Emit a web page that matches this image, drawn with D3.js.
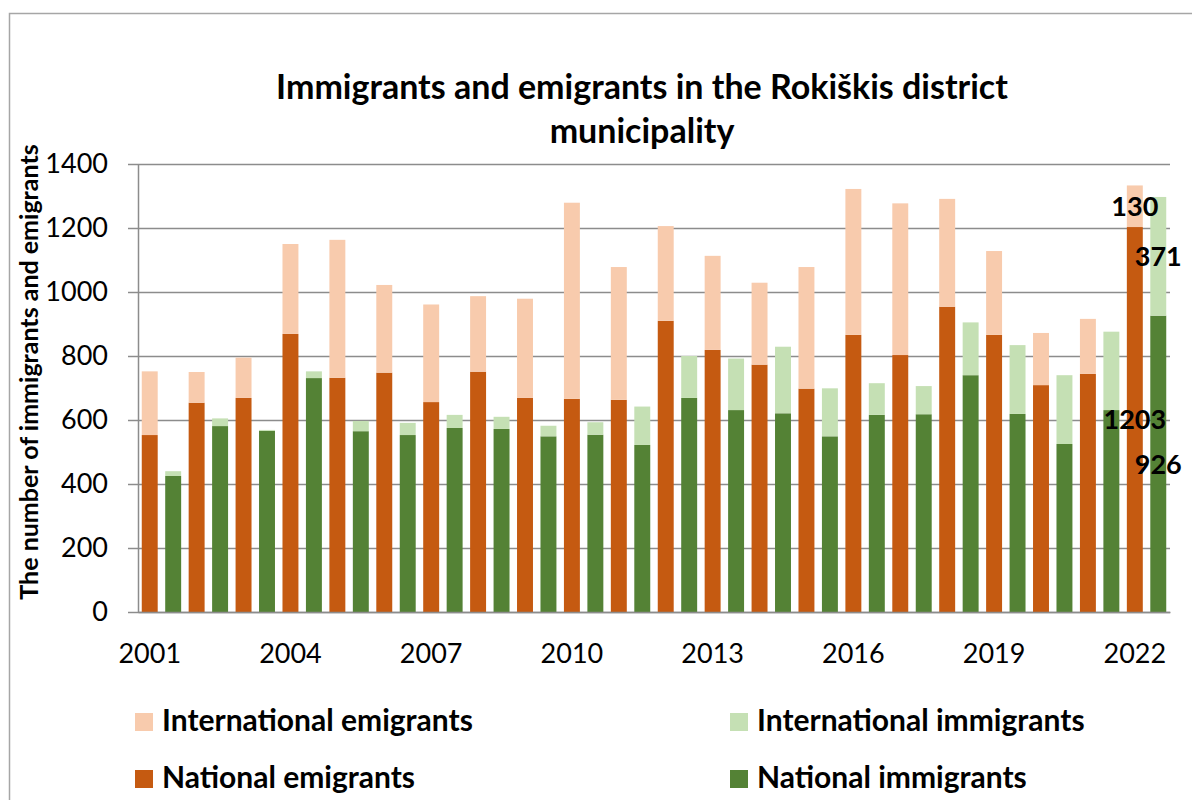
<!DOCTYPE html>
<html>
<head>
<meta charset="utf-8">
<script src="https://cdn.jsdelivr.net/npm/d3@7"></script>
<style>
    body { margin: 0; background: #fff; }
    #chart-area { width: 1192px; height: 800px; }
    text { font-family: Lato, "Open Sans", sans-serif; fill: #000; }
    .axis path, .axis line { stroke: #8c8c8c; stroke-width: 1.5px; }
    .grid path { display: none; }
    .grid line { stroke: #8c8c8c; stroke-width: 1.5px; }
</style>
</head>
<body>
<div id="chart-area"></div>
<script>

// values
let years = [2001, 2002, 2003, 2004, 2005, 2006, 2007, 2008, 2009, 2010, 2011,
             2012, 2013, 2014, 2015, 2016, 2017, 2018, 2019, 2020, 2021, 2022];
let nationalEmigrants      = [553, 654, 669, 869, 732, 748, 656, 751, 669, 666, 663,
                              910, 819, 773, 698, 866, 803, 954, 866, 709, 744, 1203];
let internationalEmigrants = [199, 96, 126, 281, 431, 274, 305, 236, 310, 613, 415,
                              296, 294, 256, 380, 456, 474, 337, 262, 163, 172, 130];
let nationalImmigrants     = [425, 581, 566, 731, 565, 553, 575, 572, 549, 554, 522,
                              669, 631, 621, 549, 616, 618, 740, 619, 525, 631, 926];
let internationalImmigrants = [15, 24, 3, 21, 32, 38, 41, 38, 33, 39, 120,
                               131, 161, 208, 150, 99, 88, 165, 215, 215, 245, 371];

let yTicks = [0, 200, 400, 600, 800, 1000, 1200, 1400];
let xTickYears = [2001, 2004, 2007, 2010, 2013, 2016, 2019, 2022];
let labelledYears = [2022];

let titleLines = ["Immigrants and emigrants in the Rokiškis district", "municipality"];
let yTitle = "The number of immigrants and emigrants";
let legendNames = ["International emigrants", "International immigrants",
                   "National emigrants", "National immigrants"];


/* * * * * * * * * * * * * *
*      class MigrationBarVis        *
* * * * * * * * * * * * * */

class MigrationBarVis {

    constructor(parentElement, data) {
        this.parentElement = parentElement;
        this.data = data;
        this.displayData = [];

        this.initVis();
    }

    initVis() {
        let vis = this;

        vis.margin = {top: 164, right: 22, bottom: 188, left: 138};
        vis.width = 1192 - vis.margin.left - vis.margin.right;
        vis.height = 800 - vis.margin.top - vis.margin.bottom;

        vis.colors = {
            "e": {national: "#C55A11", international: "#F8CBAD"},
            "i": {national: "#548235", international: "#C5E0B4"}
        };

        vis.root = d3.select("#" + vis.parentElement).append("svg")
            .attr("width", 1192)
            .attr("height", 800);

        // chart area border (runs off the right and bottom edge)
        vis.root.append("rect")
            .attr("x", 9.5)
            .attr("y", 13.5)
            .attr("width", 1200)
            .attr("height", 800)
            .attr("fill", "none")
            .attr("stroke", "#a6a6a6")
            .attr("stroke-width", 1.5);

        // title
        vis.root.append("g")
            .attr("class", "title")
            .selectAll("text")
            .data(titleLines)
            .enter().append("text")
            .attr("x", 642)
            .attr("y", (d, i) => 99 + i * 44)
            .attr("text-anchor", "middle")
            .style("font-size", "34px")
            .style("font-weight", "bold")
            .text(d => d);

        // y axis title
        vis.root.append("text")
            .attr("transform", "translate(38, 372) rotate(-90)")
            .attr("text-anchor", "middle")
            .style("font-size", "25px")
            .style("font-weight", "bold")
            .text(yTitle);

        vis.svg = vis.root.append("g")
            .attr("transform", `translate(${vis.margin.left}, ${vis.margin.top})`);

        // scales and axes
        vis.x = d3.scaleBand()
            .range([0, vis.width])
            .paddingInner(0.32)
            .paddingOuter(0.16);

        vis.y = d3.scaleLinear()
            .domain([0, d3.max(yTicks)])
            .range([vis.height, 0]);

        vis.gridGroup = vis.svg.append("g")
            .attr("class", "grid");

        vis.yAxis = d3.axisLeft()
            .scale(vis.y)
            .tickValues(yTicks)
            .tickFormat(d3.format("d"))
            .tickSize(10)
            .tickSizeOuter(0)
            .tickPadding(20);

        vis.xAxis = d3.axisBottom()
            .scale(vis.x)
            .tickSize(0)
            .tickPadding(32)
            .tickFormat(d => d.split("-")[0]);

        vis.barGroup = vis.svg.append("g");

        vis.yAxisGroup = vis.svg.append("g")
            .attr("class", "y-axis axis");

        vis.xAxisGroup = vis.svg.append("g")
            .attr("class", "x-axis axis")
            .attr("transform", "translate(0," + vis.height + ")");

        vis.labelGroup = vis.svg.append("g");

        vis.legend = vis.root.append("g")
            .attr("class", "legend");

        vis.wrangleData();
    }

    wrangleData() {
        let vis = this;

        // one emigrant bar and one immigrant bar per year
        vis.displayData = [];
        vis.data.years.forEach((year, i) => {
            vis.displayData.push({key: year + "-e", year: year, type: "e",
                national: vis.data.nationalEmigrants[i], international: vis.data.internationalEmigrants[i]});
            vis.displayData.push({key: year + "-i", year: year, type: "i",
                national: vis.data.nationalImmigrants[i], international: vis.data.internationalImmigrants[i]});
        });

        vis.stacked = d3.stack().keys(["national", "international"])(vis.displayData);

        vis.updateVis();
    }

    updateVis() {
        let vis = this;

        vis.x.domain(vis.displayData.map(d => d.key));
        vis.xAxis.tickValues(xTickYears.map(y => y + "-e"));

        // gridlines
        vis.gridGroup.call(d3.axisLeft(vis.y).tickValues(yTicks).tickSize(-vis.width).tickFormat(""));

        // bars
        vis.barGroup.selectAll(".layer")
            .data(vis.stacked)
            .enter().append("g")
            .attr("class", "layer")
            .selectAll("rect")
            .data(layer => layer.map(d => ({seg: d, series: layer.key})))
            .enter().append("rect")
            .attr("x", d => vis.x(d.seg.data.key))
            .attr("y", d => vis.y(d.seg[1]))
            .attr("width", vis.x.bandwidth())
            .attr("height", d => vis.y(d.seg[0]) - vis.y(d.seg[1]))
            .attr("fill", d => vis.colors[d.seg.data.type][d.series]);

        // data labels for the last year
        let labelled = [];
        vis.stacked.forEach(layer => {
            layer.forEach(seg => {
                if (labelledYears.includes(seg.data.year)) labelled.push(seg);
            });
        });

        vis.labelGroup.selectAll("text")
            .data(labelled)
            .enter().append("text")
            .attr("x", d => vis.x(d.data.key) + vis.x.bandwidth() / 2)
            .attr("y", d => vis.y((d[0] + d[1]) / 2))
            .attr("dy", "0.36em")
            .attr("text-anchor", "middle")
            .style("font-size", "27px")
            .style("font-weight", "bold")
            .text(d => d[1] - d[0]);

        // axes
        vis.yAxisGroup.call(vis.yAxis);
        vis.yAxisGroup.selectAll("text").style("font-size", "27px");

        vis.xAxisGroup.call(vis.xAxis);
        vis.xAxisGroup.selectAll("text").style("font-size", "27px");

        // legend, 2 x 2
        let legendColors = [vis.colors.e.international, vis.colors.i.international,
                            vis.colors.e.national, vis.colors.i.national];

        let items = vis.legend.selectAll(".legend-item")
            .data(legendNames)
            .enter().append("g")
            .attr("class", "legend-item")
            .attr("transform", (d, i) => `translate(${i % 2 === 0 ? 135 : 730}, ${i < 2 ? 713 : 770})`);

        items.append("rect")
            .attr("width", 18)
            .attr("height", 18)
            .attr("fill", (d, i) => legendColors[i]);

        items.append("text")
            .attr("x", 27)
            .attr("y", 18)
            .style("font-size", "30px")
            .style("font-weight", "bold")
            .text(d => d);
    }
}

let migrationVis = new MigrationBarVis("chart-area", {
    years: years,
    nationalEmigrants: nationalEmigrants,
    internationalEmigrants: internationalEmigrants,
    nationalImmigrants: nationalImmigrants,
    internationalImmigrants: internationalImmigrants
});

</script>
</body>
</html>
